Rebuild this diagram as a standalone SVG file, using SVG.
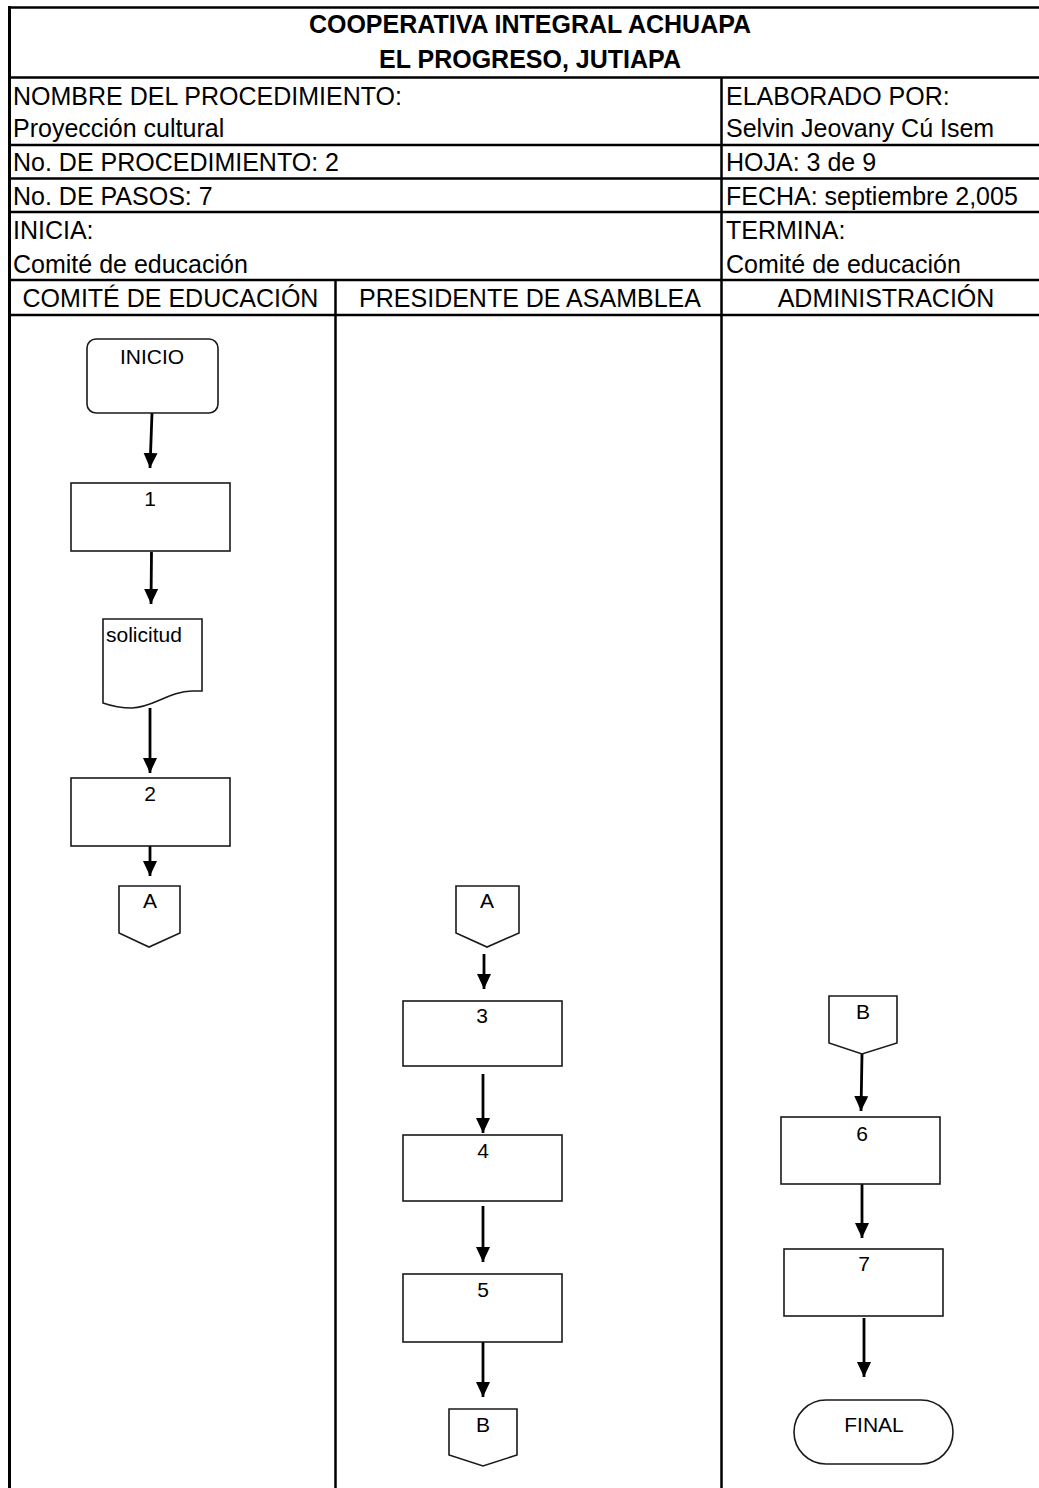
<svg xmlns="http://www.w3.org/2000/svg" width="1039" height="1488" viewBox="0 0 1039 1488">
<style>
.t{font-family:"Liberation Sans",Arial,sans-serif;font-size:25px;fill:#000}
.b{font-weight:bold}
.c{text-anchor:middle}
.s{font-family:"Liberation Sans",Arial,sans-serif;font-size:21px;fill:#000}
.grid{stroke:#000;stroke-width:2.5;fill:none}
.shape{fill:#fff;stroke:#1a1a1a;stroke-width:1.6}
.arrow{stroke:#000;stroke-width:2.8;fill:none;marker-end:url(#ah)}
</style>
<defs>
<marker id="ah" markerUnits="userSpaceOnUse" markerWidth="18" markerHeight="18" viewBox="0 0 18 18" refX="15" refY="9" orient="auto">
<path d="M0,2 L15,9 L0,16 Z" fill="#000"/>
</marker>
</defs>
<rect width="1039" height="1488" fill="#fff"/>
<g id="table">
<line class="grid" x1="8" y1="7.5" x2="1039" y2="7.5"/>
<line class="grid" x1="9.5" y1="6" x2="9.5" y2="1488" style="stroke-width:3"/>
<line class="grid" x1="9" y1="77.5" x2="1039" y2="77.5"/>
<line class="grid" x1="9" y1="145" x2="1039" y2="145"/>
<line class="grid" x1="9" y1="178.5" x2="1039" y2="178.5"/>
<line class="grid" x1="9" y1="212" x2="1039" y2="212"/>
<line class="grid" x1="9" y1="280" x2="1039" y2="280"/>
<line class="grid" x1="9" y1="315" x2="1039" y2="315"/>
<line class="grid" x1="721.5" y1="77" x2="721.5" y2="1488"/>
<line class="grid" x1="335.5" y1="280" x2="335.5" y2="1488"/>
<text class="t b c" x="530" y="33">COOPERATIVA INTEGRAL ACHUAPA</text>
<text class="t b c" x="530" y="68">EL PROGRESO, JUTIAPA</text>
<text class="t" x="13" y="105">NOMBRE DEL PROCEDIMIENTO:</text>
<text class="t" x="13" y="137">Proyección cultural</text>
<text class="t" x="13" y="171">No. DE PROCEDIMIENTO: 2</text>
<text class="t" x="13" y="205">No. DE PASOS: 7</text>
<text class="t" x="13" y="239">INICIA:</text>
<text class="t" x="13" y="273">Comité de educación</text>
<text class="t" x="726" y="105">ELABORADO POR:</text>
<text class="t" x="726" y="137">Selvin Jeovany Cú Isem</text>
<text class="t" x="726" y="171">HOJA: 3 de 9</text>
<text class="t" x="726" y="205">FECHA: septiembre 2,005</text>
<text class="t" x="726" y="239">TERMINA:</text>
<text class="t" x="726" y="273">Comité de educación</text>
<text class="t c" x="170.5" y="307">COMITÉ DE EDUCACIÓN</text>
<text class="t c" x="530" y="307">PRESIDENTE DE ASAMBLEA</text>
<text class="t c" x="886" y="307">ADMINISTRACIÓN</text>
</g>
<g id="connectors">
<line class="arrow" x1="152" y1="413" x2="150" y2="468"/>
<line class="arrow" x1="151.5" y1="552" x2="151" y2="604"/>
<line class="arrow" x1="150" y1="708" x2="150" y2="773"/>
<line class="arrow" x1="150" y1="846" x2="150" y2="876"/>
<line class="arrow" x1="484" y1="954" x2="484" y2="989"/>
<line class="arrow" x1="483" y1="1074" x2="483" y2="1133"/>
<line class="arrow" x1="483" y1="1206" x2="483" y2="1262"/>
<line class="arrow" x1="483" y1="1342" x2="483" y2="1397"/>
<line class="arrow" x1="862" y1="1054" x2="861" y2="1111"/>
<line class="arrow" x1="862" y1="1184" x2="862" y2="1238"/>
<line class="arrow" x1="864" y1="1318" x2="864" y2="1377"/>
</g>
<g id="inicio">
<rect class="shape" x="87" y="339" width="131" height="74" rx="9"/>
<text class="s c" x="152" y="364">INICIO</text>
</g>
<g id="paso1">
<rect class="shape" x="71" y="483" width="159" height="68"/>
<text class="s c" x="150" y="506">1</text>
</g>
<g id="solicitud">
<path class="shape" d="M103,619 H202 V691 H192 C170,691 152,708 132,708 C118,708 110,705.5 103,703 Z"/>
<text class="s" x="106" y="642">solicitud</text>
</g>
<g id="paso2">
<rect class="shape" x="71" y="778" width="159" height="68"/>
<text class="s c" x="150" y="801">2</text>
</g>
<g id="conectorA1">
<path class="shape" d="M119,886 H180 V933 L149,947 L119,933 Z"/>
<text class="s c" x="150" y="908">A</text>
</g>
<g id="conectorA2">
<path class="shape" d="M456,886 H519 V933 L487,947 L456,933 Z"/>
<text class="s c" x="487" y="908">A</text>
</g>
<g id="paso3">
<rect class="shape" x="403" y="1001" width="159" height="65"/>
<text class="s c" x="482" y="1023">3</text>
</g>
<g id="paso4">
<rect class="shape" x="403" y="1135" width="159" height="66"/>
<text class="s c" x="483" y="1158">4</text>
</g>
<g id="paso5">
<rect class="shape" x="403" y="1274" width="159" height="68"/>
<text class="s c" x="483" y="1297">5</text>
</g>
<g id="conectorB1">
<path class="shape" d="M449,1409 H517 V1455 L483,1466 L449,1455 Z"/>
<text class="s c" x="483" y="1432">B</text>
</g>
<g id="conectorB2">
<path class="shape" d="M829,996 H897 V1043 L862,1054 L829,1043 Z"/>
<text class="s c" x="863" y="1019">B</text>
</g>
<g id="paso6">
<rect class="shape" x="781" y="1117" width="159" height="67"/>
<text class="s c" x="862" y="1141">6</text>
</g>
<g id="paso7">
<rect class="shape" x="784" y="1249" width="159" height="67"/>
<text class="s c" x="864" y="1271">7</text>
</g>
<g id="final">
<rect class="shape" x="794" y="1400" width="159" height="64" rx="32"/>
<text class="s c" x="874" y="1432">FINAL</text>
</g>
</svg>
